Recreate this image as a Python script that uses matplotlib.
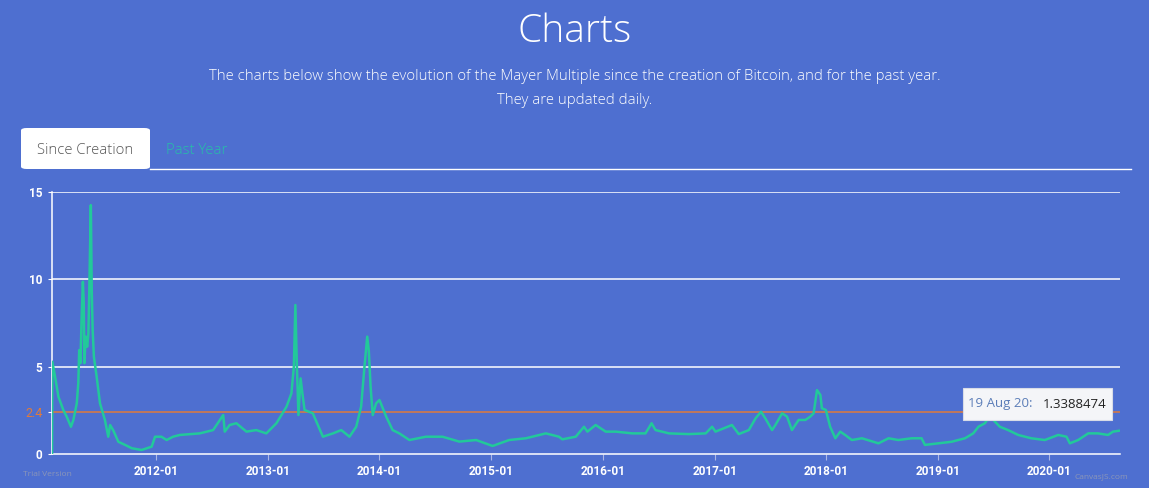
import matplotlib
matplotlib.use("Agg")
import matplotlib.pyplot as plt
import matplotlib.patches as mpatches
import matplotlib.dates as mdates
import pandas as pd

# Mayer Multiple since creation
dates = [
    "2011-01-26", "2011-01-27", "2011-02-05", "2011-02-16", "2011-03-04", "2011-03-15",
    "2011-03-29", "2011-04-06", "2011-04-17", "2011-04-22", "2011-04-25", "2011-04-29",
    "2011-05-03", "2011-05-07", "2011-05-10", "2011-05-12", "2011-05-16", "2011-05-21",
    "2011-05-25", "2011-05-28", "2011-06-02", "2011-06-05", "2011-06-08", "2011-06-12",
    "2011-06-21", "2011-07-02", "2011-07-18", "2011-07-29", "2011-08-04", "2011-08-14",
    "2011-08-31", "2011-09-22", "2011-10-14", "2011-11-15", "2011-12-18", "2011-12-29",
    "2012-01-19", "2012-02-05", "2012-02-26", "2012-03-19", "2012-05-23", "2012-07-06",
    "2012-07-28", "2012-08-08", "2012-08-13", "2012-08-29", "2012-09-20", "2012-10-23",
    "2012-11-24", "2012-12-27", "2013-01-29", "2013-03-03", "2013-03-19", "2013-03-27",
    "2013-04-01", "2013-04-06", "2013-04-11", "2013-04-18", "2013-04-24", "2013-05-01",
    "2013-05-28", "2013-06-30", "2013-08-02", "2013-08-29", "2013-09-25", "2013-10-17",
    "2013-11-02", "2013-11-13", "2013-11-22", "2013-11-27", "2013-12-03", "2013-12-10",
    "2013-12-21", "2014-01-01", "2014-01-23", "2014-02-13", "2014-03-07", "2014-04-09",
    "2014-06-02", "2014-07-26", "2014-09-19", "2014-11-13", "2015-01-06", "2015-03-01",
    "2015-04-25", "2015-06-29", "2015-08-11", "2015-08-22", "2015-10-05", "2015-11-01",
    "2015-11-12", "2015-12-09", "2016-01-11", "2016-02-13", "2016-04-07", "2016-05-20",
    "2016-06-09", "2016-06-22", "2016-08-05", "2016-10-09", "2016-12-03", "2016-12-24",
    "2017-01-04", "2017-02-27", "2017-03-21", "2017-04-23", "2017-05-15", "2017-06-02",
    "2017-06-16", "2017-07-08", "2017-07-19", "2017-08-10", "2017-08-26", "2017-09-11",
    "2017-10-03", "2017-10-25", "2017-11-10", "2017-11-21", "2017-12-02", "2017-12-13",
    "2017-12-18", "2017-12-31", "2018-01-14", "2018-01-31", "2018-02-16", "2018-03-04",
    "2018-03-26", "2018-04-28", "2018-06-21", "2018-07-24", "2018-08-25", "2018-10-08",
    "2018-11-09", "2018-11-20", "2019-01-03", "2019-02-15", "2019-03-31", "2019-04-27",
    "2019-05-14", "2019-06-04", "2019-06-21", "2019-07-07", "2019-07-23", "2019-08-19",
    "2019-09-21", "2019-11-03", "2019-12-17", "2020-01-30", "2020-02-26", "2020-03-08",
    "2020-04-04", "2020-05-07", "2020-06-08", "2020-07-11", "2020-07-27", "2020-08-19",
]
mayer = [
    0.0, 5.28, 4.43, 3.28, 2.52, 2.14,
    1.56, 1.95, 2.90, 4.06, 5.95, 5.20,
    7.86, 9.86, 8.64, 5.20, 6.72, 6.14,
    6.90, 9.39, 14.25, 9.39, 7.10, 5.57,
    4.43, 2.90, 1.95, 0.99, 1.66, 1.37,
    0.70, 0.52, 0.33, 0.23, 0.42, 0.99,
    0.99, 0.80, 0.99, 1.09, 1.18, 1.37,
    1.95, 2.23, 1.28, 1.66, 1.76, 1.28,
    1.37, 1.18, 1.76, 2.71, 3.47, 5.00,
    8.53, 5.00, 2.23, 4.33, 3.47, 2.52,
    2.33, 0.99, 1.18, 1.37, 0.99, 1.56,
    2.71, 5.00, 6.72, 5.95, 3.85, 2.23,
    2.90, 3.09, 2.14, 1.37, 1.18, 0.80,
    0.99, 0.99, 0.71, 0.80, 0.46, 0.80,
    0.90, 1.18, 0.99, 0.84, 0.99, 1.56,
    1.28, 1.66, 1.28, 1.28, 1.18, 1.18,
    1.76, 1.37, 1.18, 1.14, 1.18, 1.56,
    1.28, 1.66, 1.14, 1.37, 2.04, 2.42,
    2.04, 1.37, 1.66, 2.33, 2.14, 1.37,
    1.95, 1.95, 2.14, 2.33, 3.66, 3.38,
    2.62, 2.52, 1.56, 0.90, 1.28, 1.09,
    0.80, 0.90, 0.61, 0.90, 0.80, 0.90,
    0.90, 0.52, 0.61, 0.70, 0.90, 1.18,
    1.56, 1.76, 2.20, 1.85, 1.56, 1.37,
    1.09, 0.90, 0.80, 1.09, 0.99, 0.61,
    0.80, 1.18, 1.18, 1.09, 1.28, 1.34,
]
threshold = 2.4
y_ticks = [0, 5, 10, 15]
year_ticks = ["2012-01-01", "2013-01-01", "2014-01-01", "2015-01-01", "2016-01-01",
              "2017-01-01", "2018-01-01", "2019-01-01", "2020-01-01"]

BG = "#4E6FD0"
LINE = "#22C99A"
ORANGE = "#DF7A3C"
W, H = 1149, 488

def fx(x):
    return x / W

def fy(y):
    return 1 - y / H

plt.rcParams['font.family'] = ['Open Sans', 'DejaVu Sans']
fig = plt.figure(figsize=(W / 100, H / 100), dpi=100, facecolor=BG)

# header
fig.text(0.5, fy(32), "Charts", color="white", fontsize=28, fontweight="light",
         ha="center", va="center")
fig.text(0.5, fy(76), "The charts below show the evolution of the Mayer Multiple since the "
         "creation of Bitcoin, and for the past year.", color="white", fontsize=10.7,
         fontweight="light", ha="center", va="center")
fig.text(0.5, fy(101), "They are updated daily.", color="white", fontsize=10.7,
         fontweight="light", ha="center", va="center")

# tabs
tab = mpatches.FancyBboxPatch((fx(21), fy(169)), fx(150) - fx(21), fy(128) - fy(169),
                              boxstyle="round,pad=0,rounding_size=0.005",
                              transform=fig.transFigure, facecolor="white",
                              edgecolor="none", zorder=1)
fig.patches.append(tab)
fig.lines.append(plt.Line2D([fx(150), fx(1131)], [fy(169), fy(169)],
                            transform=fig.transFigure, color="white", lw=1.0))
fig.text(fx(85), fy(150), "Since Creation", color="#555555", fontsize=10.7,
         fontweight="light", ha="center", va="center", zorder=2)
fig.text(fx(197), fy(150), "Past Year", color="#26BFA8", fontsize=10.7,
         fontweight="light", ha="center", va="center")

# chart
ax = fig.add_axes([fx(52), fy(454), fx(1120) - fx(52), fy(192) - fy(454)])
ax.set_facecolor(BG)
x = pd.to_datetime(dates)
ax.plot(x, mayer, color=LINE, lw=1.8, zorder=3, solid_joinstyle="round")
ax.axhline(threshold, color=ORANGE, lw=1.1, zorder=2)
for v in y_ticks[1:]:
    ax.axhline(v, color="white", lw=1.1, zorder=1)

ax.set_xlim(pd.Timestamp("2011-01-26"), pd.Timestamp("2020-08-19"))
ax.set_ylim(0, 15)
for s in ["top", "right"]:
    ax.spines[s].set_visible(False)
ax.spines["left"].set_color("white")
ax.spines["bottom"].set_color("white")
ax.spines["left"].set_linewidth(1.1)
ax.spines["bottom"].set_linewidth(1.1)

ax.set_yticks(y_ticks + [threshold])
ax.set_yticklabels([str(v) for v in y_ticks] + ["2.4"])
ax.tick_params(axis="y", length=3, color="white", pad=4, labelsize=8.5)
for lbl in ax.get_yticklabels():
    if lbl.get_text() == "2.4":
        lbl.set_color(ORANGE)
        lbl.set_fontsize(9)
    else:
        lbl.set_color("white")
        lbl.set_fontweight("bold")
ytl = ax.yaxis.get_major_ticks()
ytl[-1].tick1line.set_color(ORANGE)

ax.set_xticks(pd.to_datetime(year_ticks))
ax.xaxis.set_major_formatter(mdates.DateFormatter("%Y-%m"))
ax.tick_params(axis="x", length=4, color="#AAB7E6", pad=4, labelsize=8.5,
               labelcolor="white")
for lbl in ax.get_xticklabels():
    lbl.set_fontweight("bold")
    lbl.set_family(["Roboto", "DejaVu Sans"])
for lbl in ax.get_yticklabels():
    lbl.set_family(["Roboto", "DejaVu Sans"])

# tooltip
tip = mpatches.Rectangle((fx(963), fy(420)), fx(1112) - fx(963), fy(388) - fy(420),
                         transform=fig.transFigure, facecolor="#F4F5F8",
                         edgecolor="#D8DCE6", lw=0.8, zorder=5)
fig.patches.append(tip)
fig.text(fx(968), fy(404), "19 Aug 20:", color="#5B7DB8", fontsize=9.5,
         ha="left", va="center", zorder=6)
fig.text(fx(1106), fy(404), "1.3388474", color="#222222", fontsize=9.5,
         ha="right", va="center", zorder=6)

# watermarks
fig.text(fx(23), fy(474), "Trial Version", color="#8C96B8", fontsize=6,
         ha="left", va="center")
fig.text(fx(1128), fy(477), "CanvasJS.com", color="#8C96B8", fontsize=6,
         ha="right", va="center")

fig.savefig("out.png", dpi=100, facecolor=BG)
